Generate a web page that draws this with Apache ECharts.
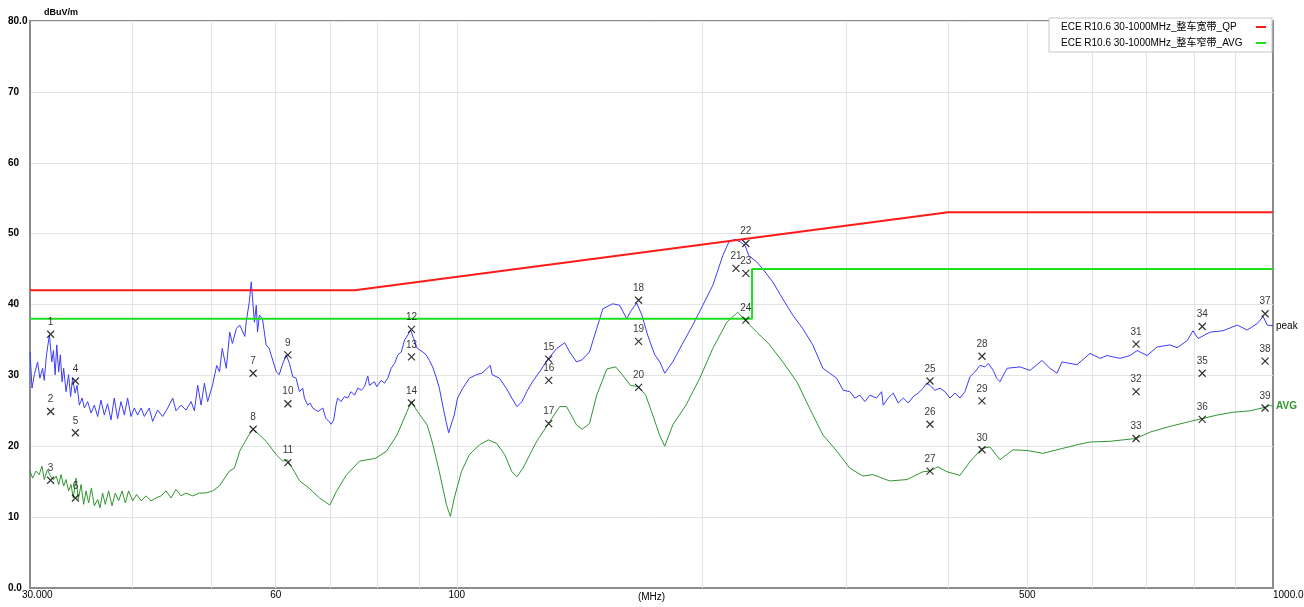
<!DOCTYPE html>
<html lang="zh">
<head>
<meta charset="UTF-8">
<style>
html, body { height: 100%; margin: 0; background: #fff; }
</style>
</head>
<body>
<div id="chart" style="width:1304px;height:607px;"></div>
<script src="https://cdn.jsdelivr.net/npm/echarts@6/dist/echarts.min.js"></script>
<script>
// limit lines (MHz / dBuV/m)
var qpName = 'ECE R10.6 30-1000MHz_整车宽带_QP';
var avgName = 'ECE R10.6 30-1000MHz_整车窄带_AVG';
var qpLimitMHz = [30, 75, 400, 1000];
var qpLimitDb = [42, 42, 53, 53];
var avgLimitMHz = [30, 230, 230, 1000];
var avgLimitDb = [38, 38, 45, 45];

// peak trace
var peakMHz = [30.0, 30.17, 30.37, 30.65, 30.85, 31.08, 31.23, 31.43, 31.69, 31.90, 32.05, 32.21, 32.35, 32.53, 32.68, 32.84, 32.99, 33.21, 33.45, 33.64,
  33.83, 34.07, 34.26, 34.48, 34.75, 34.97, 35.30, 35.64, 35.97, 36.31, 36.65, 37.0, 37.34, 37.70, 38.05, 38.41, 38.78, 39.15, 39.51, 39.89,
  40.26, 40.64, 41.04, 41.42, 42.0, 42.40, 43.0, 43.62, 44.24, 44.87, 45.29, 45.94, 46.59, 47.26, 47.70, 48.15, 48.61, 49.07, 49.52,
  50.2, 50.8, 51.2, 51.6, 52.2, 52.7, 53.1, 53.7, 54.2, 55.0, 55.2, 55.7, 56.0, 56.5, 56.8, 57.0, 57.3, 57.8, 58.4, 58.9,
  60.1, 60.6, 61.1, 61.8, 62.37, 62.96, 63.56, 64.15, 64.75, 65.06, 65.67, 66.11, 66.59, 67.58, 68.54, 69.06, 69.71, 70.18, 70.66, 71.13,
  71.46, 72.15, 72.82, 73.50, 74.21, 74.94, 75.64, 76.37, 77.08, 77.80, 78.17, 79.27, 79.79, 80.79, 81.54, 82.31, 83.10, 83.91, 84.69, 85.51,
  86.31, 87.12, 87.78, 88.56, 89.16, 90.0, 90.85, 91.72, 92.57, 93.42, 94.31, 95.2, 96.09, 97.02, 97.73, 98.40, 99.29, 100.22, 101.6,
  103.6, 105.7, 107.3, 109.9, 110.5, 112.8, 115.1, 116.8, 118.5, 120.2, 121.8, 123.8, 126.3, 129.5, 132.6, 135.6, 137.5, 140.2, 142.4, 145.4,
  148.4, 151.0, 155.2, 158.3, 161.5, 163.7, 166.1, 168.6, 171.3, 174.8, 177.3, 179.8, 183.9, 188.7, 194.6, 200.2, 205.9, 211.8, 215.4, 219.1,
  222.8, 225.6, 227.9, 233.1, 237.1, 243.8, 250.8, 258.0, 265.4, 273.0, 280.9, 286.5, 292.0, 297.5, 303.1, 307.4, 311.8, 316.2, 320.7, 326.8,
  331.5, 333.0, 337.7, 342.6, 347.4, 352.4, 357.4, 362.4, 367.5, 372.8, 376.4, 379.9, 385.3, 390.8, 396.4, 402.0, 407.7, 413.5, 419.4, 425.3,
  431.4, 437.5, 443.7, 447.9, 454.2, 458.6, 462.9, 472.2, 489.8, 503.8,
  521.1, 533.0, 543.7, 551.4, 575.2, 596.8, 613.9, 626.2, 649.6, 668.2, 681.5, 701.0, 721.0, 747.9, 762.9, 784.8, 798.0, 809.4, 837.3, 868.8,
  903.8, 929.7, 956.3, 972.6, 983.7, 1000];
var peakDb = [33.3, 28.2, 30.1, 31.9, 29.6, 31.0, 29.3, 32.9, 35.7, 31.9, 33.5, 30.1, 34.3, 30.5, 32.9, 29.1, 31.0, 27.7, 30.1, 27.0,
  29.6, 27.5, 28.6, 25.8, 26.8, 25.4, 26.3, 24.7, 25.8, 24.2, 26.5, 24.4, 26.0, 23.7, 26.8, 23.9, 26.3, 24.4, 26.8, 24.2,
  25.4, 24.4, 25.4, 24.2, 25.4, 23.5, 25.1, 24.2, 25.4, 26.8, 25.0, 25.8, 25.1, 26.3, 25.0, 28.6, 25.8, 28.9, 26.3,
  28.6, 31.4, 30.5, 33.8, 31.0, 36.1, 34.5, 36.6, 37.1, 35.5, 37.5, 40.4, 43.2, 37.5, 39.9, 36.1, 38.5, 38.0, 34.3, 33.8,
  30.5, 30.1, 31.4, 32.9, 31.7, 29.8, 29.6, 27.7, 28.2, 26.8, 25.8, 26.1, 25.4, 24.9, 25.4, 24.0, 23.5, 23.1, 23.7, 25.8,
  26.8, 26.3, 27.0, 26.8, 27.7, 27.2, 28.2, 27.9, 28.4, 29.9, 28.6, 29.1, 28.4, 29.3, 28.9, 29.6, 31.0, 31.7, 32.9, 33.3,
  35.0, 35.7, 36.4, 35.2, 34.0, 33.6, 33.3, 32.9, 32.1, 31.2, 29.8, 28.2, 25.8, 23.5, 21.9, 23.0, 24.4, 26.8, 28.1,
  29.6, 30.1, 30.3, 31.4, 30.1, 29.6, 28.1, 26.8, 25.6, 26.3, 27.7, 29.1, 30.5, 32.4, 33.8, 34.6, 33.3, 31.9, 32.2, 33.3,
  36.6, 39.4, 40.1, 39.9, 38.0, 39.2, 40.2, 38.5, 35.7, 32.9, 31.9, 30.3, 31.9, 34.3, 37.1, 39.9, 42.7, 46.9, 48.8, 49.2,
  48.8, 48.3, 46.9, 46.0, 45.0, 43.2, 40.8, 38.5, 36.6, 34.3, 31.0, 30.3, 29.6, 27.9, 27.7, 26.8, 27.2, 26.3, 27.2, 26.8,
  27.7, 25.8, 26.8, 27.5, 26.1, 26.8, 26.1, 27.0, 27.5, 28.2, 28.9, 28.6, 27.9, 28.2, 27.7, 26.8, 27.5, 26.8, 27.7, 29.8,
  30.5, 31.4, 31.2, 31.7, 30.7, 29.6, 29.1, 31.0, 31.2, 30.7,
  32.1, 31.0, 30.3, 31.9, 31.5, 33.1, 32.4, 32.8, 32.4, 32.8, 33.5, 32.8, 34.0, 34.3, 33.9, 34.9, 36.3, 35.2, 36.1, 36.3,
  37.1, 36.4, 37.3, 38.3, 37.1, 37.0];

// average trace
var avgMHz = [30.0, 30.22, 30.51, 30.79, 31.03, 31.23, 31.52, 31.78, 32.05, 32.30, 32.53, 32.75, 32.99, 33.21, 33.45, 33.68, 33.90, 34.16, 34.38, 34.65,
  34.90, 35.14, 35.40, 35.67, 35.97, 36.31, 36.55, 36.82, 37.10, 37.45, 37.81, 38.16, 38.52, 38.90, 39.26, 39.62, 40.07, 40.53, 41.04, 41.62,
  42.21, 42.81, 43.42, 44.04, 44.66, 45.29, 45.94, 46.59, 47.47, 48.38, 49.30, 50.23, 51.19, 52.16, 52.65,
  53.4, 54.2, 55.5, 56.3, 57.3, 58.4, 60.1,
  61.2, 62.0, 62.9, 64.2, 65.9, 67.9, 69.9, 71.2, 73.2, 76.0, 79.5, 82.0, 84.5, 86.9, 88.0, 89.5, 92.0, 93.5, 95.2, 97.1,
  98.2, 99.3, 101.3, 103.6, 106.6, 109.3, 111.9, 114.5, 116.8, 118.5, 120.5, 125.3, 129.5, 133.7, 136.3, 140.2, 142.4, 145.4, 148.4, 152.7,
  156.5, 159.5, 163.2, 167.0, 170.4, 174.3, 177.3, 179.8, 183.9, 190.9, 198.5, 205.9, 214.2, 220.9, 225.4, 233.1, 241.8, 250.8, 261.0, 270.7,
  280.9, 292.2, 303.1, 314.5, 323.4, 339.3, 356.1, 372.4, 379.9, 388.6, 398.6, 413.5, 425.3, 440.0, 450.0, 462.9, 480.2, 499.6, 522.6, 543.7,
  575.2, 596.8, 631.5, 655.1, 679.6, 707.0, 747.9, 791.4, 818.6, 854.2, 893.6, 937.6, 978.1, 992.0, 1000];
var avgDb = [16.5, 15.5, 16.5, 16.0, 17.2, 15.3, 16.7, 15.8, 15.3, 15.8, 14.6, 16.0, 14.4, 15.3, 13.7, 14.6, 12.7, 15.5, 12.5, 14.6,
  11.8, 13.7, 12.0, 14.1, 11.6, 12.5, 11.3, 13.4, 11.8, 13.7, 11.6, 13.4, 12.3, 13.7, 12.0, 13.7, 12.3, 13.2, 12.3, 13.0,
  12.3, 12.7, 13.0, 13.7, 12.7, 13.9, 13.0, 13.4, 13.0, 13.4, 13.4, 13.7, 14.4, 15.8, 16.5,
  16.9, 19.3, 21.4, 22.4, 21.6, 20.7, 18.8,
  17.9, 18.1, 16.9, 15.1, 14.1, 12.7, 11.7, 13.6, 15.9, 17.9, 18.3, 19.3, 21.6, 24.9, 26.3, 24.9, 23.0, 20.2, 16.4, 11.8,
  10.1, 12.7, 16.4, 18.8, 20.2, 20.9, 20.4, 18.8, 16.4, 15.7, 16.9, 20.7, 23.2, 25.6, 25.6, 23.0, 22.4, 23.2, 27.2, 30.9,
  31.2, 30.1, 28.6, 28.4, 27.2, 24.0, 21.5, 20.0, 23.0, 25.8, 29.6, 33.8, 37.5, 38.9, 37.8, 36.1, 34.3, 31.9, 29.1, 25.3,
  21.6, 19.3, 16.9, 15.8, 16.0, 15.1, 15.3, 16.4, 16.5, 17.1, 16.4, 15.9, 17.8, 19.7, 19.9, 18.1, 19.5, 19.4, 19.0, 19.5,
  20.2, 20.6, 20.7, 20.9, 21.1, 22.0, 22.8, 23.5, 23.9, 24.4, 24.8, 25.0, 25.5, 25.8, 25.6];

// numbered markers 1..39
var markerMHz = [31.8, 31.8, 31.8, 34.1, 34.1, 34.1, 56.3, 56.3, 62.1, 62.1, 62.1, 88.0, 88.0, 88.0, 129.6, 129.6, 129.6, 167.0, 167.0, 167.0,
  219.8, 226.0, 226.0, 226.0, 380.0, 380.0, 380.0, 440.0, 440.0, 440.0, 679.6, 679.6, 679.6, 819.0, 819.0, 819.0, 978.0, 978.0, 978.0];
var markerDb = [35.8, 24.9, 15.2, 29.2, 21.9, 12.7, 30.3, 22.4, 32.9, 26.0, 17.7, 36.5, 32.6, 26.1, 32.3, 29.3, 23.2, 40.6, 34.8, 28.3,
  45.1, 48.6, 44.4, 37.8, 29.2, 23.1, 16.5, 32.7, 26.4, 19.5, 34.4, 27.7, 21.1, 36.9, 30.3, 23.8, 38.7, 32.0, 25.4];

// vertical grid and x tick labels
var gridMHz = [40, 50, 60, 70, 80, 90, 100, 200, 300, 400, 500, 600, 700, 800, 900];
var tickMHz = [30, 60, 100, 500, 1000];
var tickText = ['30.000', '60', '100', '500', '1000.0'];

function pairs(xs, ys) {
    return xs.map(function (x, i) { return [x, ys[i]]; });
}

var font = 'Arial, "Liberation Sans", "Noto Sans CJK SC", sans-serif';
var gridLines = gridMHz.map(function (f) { return { xAxis: f }; });
var tickLabels = tickMHz.map(function (f, i) {
    var last = i === tickMHz.length - 1;
    return {
        xAxis: f,
        lineStyle: { color: 'rgba(0,0,0,0)' },
        label: {
            show: true, position: 'start', formatter: tickText[i], distance: 2,
            fontSize: 10, color: '#000',
            align: (i === 0 || last) ? 'left' : 'center',
            padding: i === 0 ? [0, 0, 0, -8] : 0
        }
    };
});

var myChart = echarts.init(document.getElementById('chart'));
myChart.setOption({
    animation: false,
    textStyle: { fontFamily: font },
    grid: { left: 30, right: 31, top: 21, bottom: 16, show: true, borderColor: '#8c8c8c', borderWidth: 2 },
    legend: {
        data: [qpName, avgName],
        orient: 'vertical',
        right: 32,
        top: 18,
        align: 'right',
        icon: 'rect',
        itemWidth: 10,
        itemHeight: 2,
        itemGap: 6,
        padding: [4, 6, 4, 12],
        backgroundColor: '#fff',
        borderColor: '#c8c8c8',
        borderWidth: 1,
        formatter: '{t|{name}}',
        textStyle: {
            fontSize: 10, color: '#000',
            rich: { t: { width: 190, align: 'left', fontSize: 10, color: '#000' } }
        }
    },
    xAxis: {
        type: 'log',
        logBase: 10,
        min: 30,
        max: 1000,
        name: '(MHz)',
        nameLocation: 'middle',
        nameGap: 4,
        nameTextStyle: { fontSize: 10, color: '#000', verticalAlign: 'top' },
        axisLine: { lineStyle: { color: '#8c8c8c', width: 2 } },
        axisTick: { show: false },
        axisLabel: { show: false },
        splitLine: { show: false }
    },
    yAxis: {
        type: 'value',
        min: 0,
        max: 80,
        interval: 10,
        name: 'dBuV/m',
        nameLocation: 'end',
        nameGap: 4,
        nameTextStyle: { align: 'left', padding: [0, 0, 0, 14], fontSize: 9, fontWeight: 'bold', color: '#000' },
        axisLine: { show: true, lineStyle: { color: '#8c8c8c', width: 2 } },
        axisTick: { show: false },
        axisLabel: {
            fontSize: 10, fontWeight: 'bold', color: '#000', margin: 22, align: 'left',
            formatter: function (v) { return (v === 0 || v === 80) ? v.toFixed(1) : String(v); }
        },
        splitLine: { lineStyle: { color: '#e3e3e3', width: 1 } }
    },
    series: [
        {
            name: 'grid', type: 'line', data: [], silent: true, z: 1,
            markLine: {
                silent: true, symbol: 'none', animation: false, z: 1,
                lineStyle: { color: '#e3e3e3', width: 1, type: 'solid' },
                label: { show: false, fontSize: 10, color: '#000' },
                emphasis: { disabled: true },
                data: gridLines.concat(tickLabels)
            }
        },
        {
            name: 'peak', type: 'line', data: pairs(peakMHz, peakDb), symbol: 'none', z: 2,
            lineStyle: { color: '#3b3bff', width: 1 }, itemStyle: { color: '#3b3bff' },
            endLabel: { show: true, formatter: 'peak', color: '#000', fontSize: 10, distance: 3 }
        },
        {
            name: 'AVG', type: 'line', data: pairs(avgMHz, avgDb), symbol: 'none', z: 2,
            lineStyle: { color: '#2f962f', width: 1 }, itemStyle: { color: '#2f962f' },
            endLabel: { show: true, formatter: 'AVG', color: '#2f962f', fontSize: 10, fontWeight: 'bold', distance: 3 }
        },
        {
            name: qpName, type: 'line', data: pairs(qpLimitMHz, qpLimitDb), symbol: 'none', z: 3,
            lineStyle: { color: '#ff1a1a', width: 2 }, itemStyle: { color: '#ff1a1a' }
        },
        {
            name: avgName, type: 'line', data: pairs(avgLimitMHz, avgLimitDb), symbol: 'none', z: 3,
            lineStyle: { color: '#1ee01e', width: 2 }, itemStyle: { color: '#1ee01e' }
        },
        {
            name: 'markers', type: 'scatter', data: pairs(markerMHz, markerDb), z: 5,
            symbol: 'path://M0,0L10,10M10,0L0,10', symbolSize: 7,
            itemStyle: { color: 'none', borderColor: '#000', borderWidth: 1.2 },
            label: {
                show: true, position: 'top', distance: 1, fontSize: 10, color: '#000',
                formatter: function (p) { return String(p.dataIndex + 1); }
            }
        }
    ]
});
</script>
</body>
</html>
